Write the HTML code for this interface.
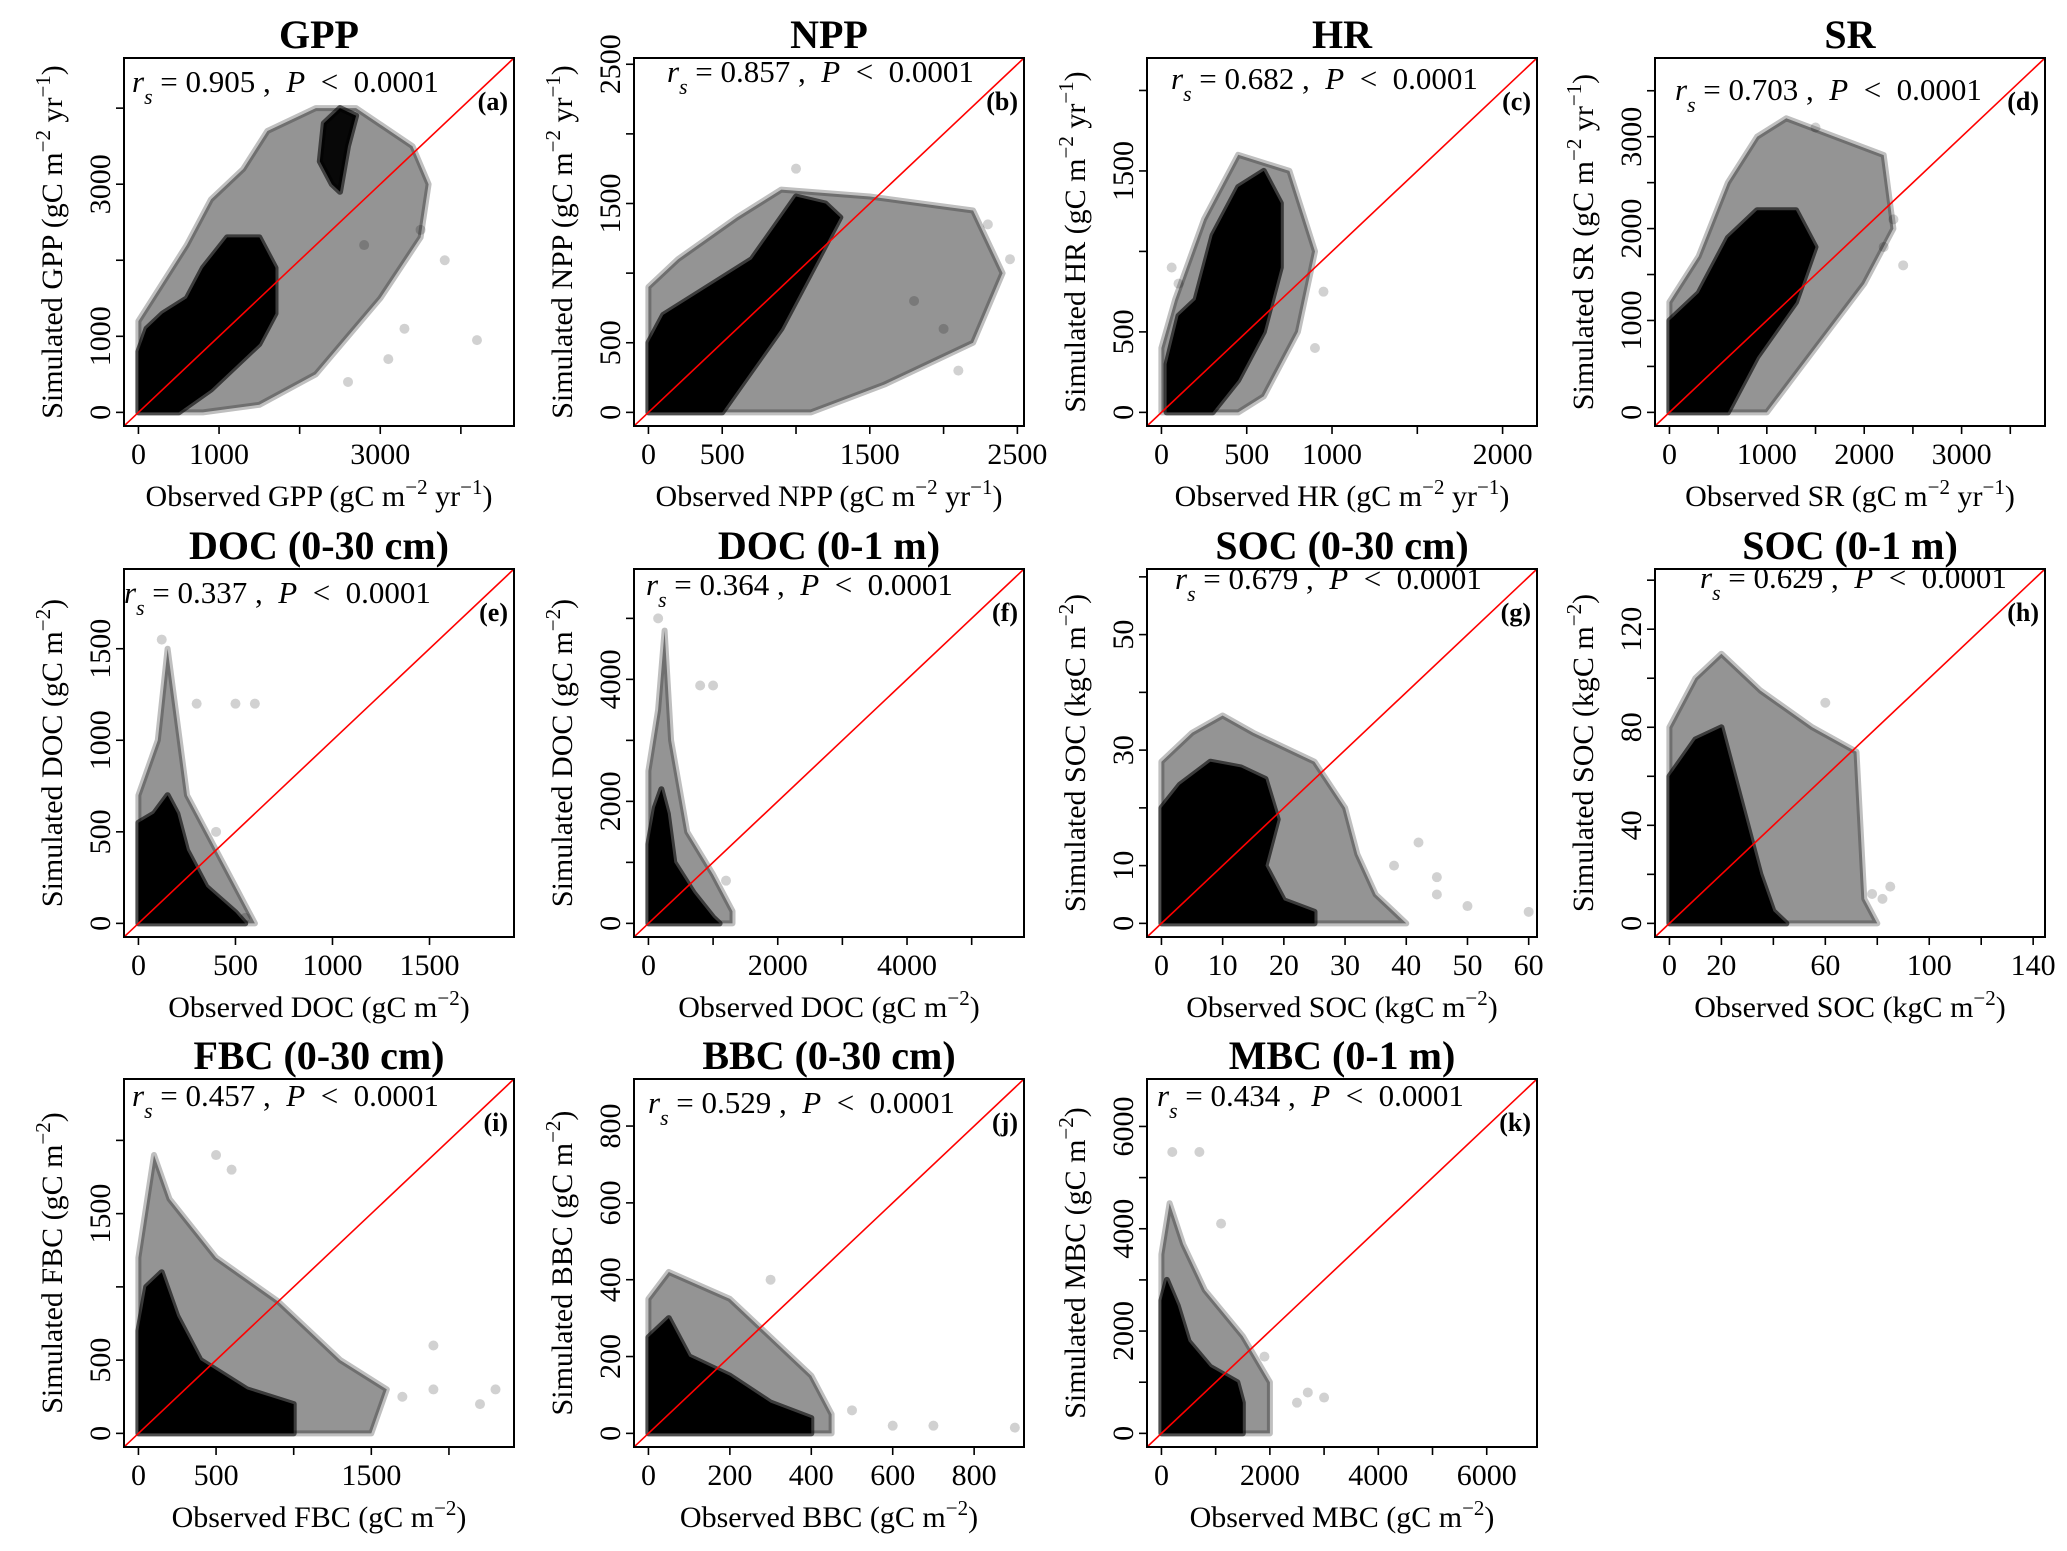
<!DOCTYPE html>
<html><head><meta charset="utf-8"><style>
html,body{margin:0;padding:0;background:#fff;}
svg{display:block;font-family:"Liberation Serif","DejaVu Serif",serif;}
.pre{white-space:pre;}
</style></head><body>
<svg id="fig" width="2067" height="1551" viewBox="0 0 2067 1551" xmlns="http://www.w3.org/2000/svg"></svg>
<script>
// ---- data (observed x, simulated y) ----
const panelIds = ["a","b","c","d","e","f","g","h","i","j","k"];
const titles = ["GPP","NPP","HR","SR","DOC (0-30 cm)","DOC (0-1 m)","SOC (0-30 cm)","SOC (0-1 m)","FBC (0-30 cm)","BBC (0-30 cm)","MBC (0-1 m)"];
const varNames = ["GPP","NPP","HR","SR","DOC","DOC","SOC","SOC","FBC","BBC","MBC"];
const units = ["gC m|−2| yr|−1|","gC m|−2| yr|−1|","gC m|−2| yr|−1|","gC m|−2| yr|−1|","gC m|−2|","gC m|−2|","kgC m|−2|","kgC m|−2|","gC m|−2|","gC m|−2|","gC m|−2|"];
const rsValues = ["0.905","0.857","0.682","0.703","0.337","0.364","0.679","0.629","0.457","0.529","0.434"];
const axisMax = [4480,2447,2117,3708,1861,5586,59,139,2326,887,6661];
const tickStep = [1000,500,500,500,500,1000,10,20,500,200,1000];
const xTickLabels = [[0,1000,3000],[0,500,1500,2500],[0,500,1000,2000],[0,1000,2000,3000],[0,500,1000,1500],[0,2000,4000],[0,10,20,30,40,50,60],[0,20,60,100,140],[0,500,1500],[0,200,400,600,800],[0,2000,4000,6000]];
const yTickLabels = [[0,1000,3000],[0,500,1500,2500],[0,500,1500],[0,1000,2000,3000],[0,500,1000,1500],[0,2000,4000],[0,10,30,50],[0,40,80,120],[0,500,1500],[0,200,400,600,800],[0,2000,4000,6000]];
// dense cores (obs,sim vertices)
const denseCores = [
 [[0,0],[0,800],[100,1100],[300,1300],[600,1500],[800,1900],[1100,2300],[1500,2300],[1700,1900],[1700,1300],[1500,900],[1200,600],[900,300],[500,0]],
 [[0,0],[0,500],[100,700],[400,900],[700,1100],[900,1400],[1000,1550],[1200,1500],[1300,1400],[1100,1000],[900,600],[700,300],[500,0]],
 [[30,0],[30,300],[100,600],[200,700],[300,1100],[450,1400],[600,1500],[700,1300],[700,900],[600,500],[450,200],[300,0]],
 [[0,0],[0,1000],[300,1300],[600,1900],[900,2200],[1300,2200],[1500,1800],[1300,1200],[900,600],[600,0]],
 [[0,0],[0,550],[80,600],[150,700],[200,600],[250,400],[350,200],[500,60],[550,0]],
 [[0,0],[0,1300],[100,1900],[200,2200],[300,1800],[400,1000],[700,500],[1000,100],[1100,0]],
 [[0,0],[0,20],[3,24],[8,28],[13,27],[17,25],[19,18],[17,10],[20,4],[25,2],[25,0]],
 [[0,0],[0,60],[10,75],[20,80],[25,60],[30,40],[35,20],[40,5],[45,0]],
 [[0,0],[0,700],[50,1000],[150,1100],[250,800],[400,500],[700,300],[1000,200],[1000,0]],
 [[0,0],[0,250],[50,300],[100,200],[200,150],[300,80],[400,40],[400,0]],
 [[0,0],[0,2600],[100,3000],[300,2500],[500,1800],[900,1300],[1400,1000],[1500,600],[1500,0]]
];
const extraCores = [
 [[2250,3300],[2300,3800],[2500,4000],[2700,3900],[2600,3500],[2500,2900],[2400,3000]],
 [],[],[],[],[],[],[],[],[],[]
];
// lower-density halos
const halos = [
 [[0,0],[0,1200],[300,1700],[600,2200],[900,2800],[1300,3200],[1600,3700],[2200,4000],[2700,4000],[3400,3500],[3600,3000],[3500,2300],[3000,1500],[2600,1000],[2200,500],[1500,100],[800,0]],
 [[0,0],[0,900],[200,1100],[600,1400],[900,1600],[1500,1550],[2200,1450],[2400,1000],[2200,500],[1600,200],[1100,0]],
 [[0,0],[0,400],[80,700],[250,1200],[450,1600],[750,1500],[900,1000],[800,500],[600,100],[450,0]],
 [[0,0],[0,1200],[300,1700],[600,2500],[900,3000],[1200,3200],[1700,3000],[2200,2800],[2300,2000],[2000,1400],[1500,700],[1000,0]],
 [[0,0],[0,700],[100,1000],[150,1500],[200,1100],[250,700],[400,400],[550,100],[600,0]],
 [[0,0],[0,2500],[150,3500],[250,4800],[350,3000],[600,1500],[1000,800],[1300,200],[1300,0]],
 [[0,0],[0,28],[5,33],[10,36],[15,33],[25,28],[30,20],[32,12],[35,5],[40,0]],
 [[0,0],[0,80],[10,100],[20,110],[35,95],[55,80],[72,70],[75,10],[80,0]],
 [[0,0],[0,1200],[100,1900],[200,1600],[500,1200],[900,900],[1300,500],[1600,300],[1500,0]],
 [[0,0],[0,350],[50,420],[200,350],[400,150],[450,50],[450,0]],
 [[0,0],[0,3500],[150,4500],[400,3700],[800,2800],[1500,1900],[2000,1000],[2000,0]]
];
// sparse outlier points
const outliers = [
 [[4200,950],[3800,2000],[3500,2400],[2800,2200],[2600,400],[3300,1100],[3100,700]],
 [[2300,1350],[2100,300],[1800,800],[1000,1750],[2450,1100],[2000,600]],
 [[100,800],[950,750],[900,400],[60,900]],
 [[2300,2100],[2200,1800],[1500,3100],[2400,1600]],
 [[600,1200],[500,1200],[300,1200],[120,1550],[400,500],[550,30]],
 [[1000,3900],[800,3900],[150,5000],[1200,700]],
 [[45,8],[50,3],[60,2],[38,10],[45,5],[42,14]],
 [[85,15],[82,10],[60,90],[78,12]],
 [[2300,300],[2200,200],[1900,300],[600,1800],[500,1900],[1900,600],[1700,250]],
 [[900,15],[700,20],[600,20],[300,400],[500,60]],
 [[3000,700],[2500,600],[200,5500],[700,5500],[1100,4100],[1900,1500],[2700,800]]
];

// ---- layout ----
const colLeft = [124,634,1147,1655];
const rowTop = [58,569,1079];
const W = 390, H = 368;
const rsOffX = [8,33,24,20,0,12,28,45,8,14,10];
const rsOffY = [34,24,31,42,34,26,20,19,27,34,27];
const NS = "http://www.w3.org/2000/svg";
const svg = document.getElementById('fig');
function mk(tag, attrs, parent){ const e=document.createElementNS(NS,tag); for(const k in attrs) e.setAttribute(k,attrs[k]); (parent||svg).appendChild(e); return e; }
function supText(parent, str, attrs){
  const t = mk('text', attrs, parent);
  str.split('|').forEach((s,i)=>{ const ts=mk('tspan',{},t); ts.textContent=s; if(i%2===1){ ts.setAttribute('baseline-shift','super'); ts.setAttribute('font-size','0.7em'); } });
  return t;
}

panelIds.forEach((id,p)=>{
  const L = colLeft[p%4], T = rowTop[Math.floor(p/4)];
  const m = axisMax[p], lo=-0.04*m, hi=1.04*m;
  const sx = v => L + (v-lo)/(hi-lo)*W;
  const sy = v => T + H - (v-lo)/(hi-lo)*H;
  const g = mk('g',{});
  
  
  const cp = mk('clipPath',{id:'clip'+id},g); mk('rect',{x:L,y:T,width:W,height:H},cp);
  const marks = mk('g',{'clip-path':'url(#clip'+id+')'},g);
  
  
  const poly = (arr, fill, op) => { if(!arr.length) return; const e=mk('polygon',{points:arr.map(q=>sx(q[0]).toFixed(1)+','+sy(q[1]).toFixed(1)).join(' '),fill:fill,'fill-opacity':op,stroke:fill,'stroke-opacity':op*0.6,'stroke-width':6,'stroke-linejoin':'round'},marks); return e; };
  const h = poly(halos[p],'#000',0.42);  
  const c = poly(denseCores[p],'#000',1);  
  const ec = poly(extraCores[p],'#000',0.95); if(ec){   }
  outliers[p].forEach(q=>{ const e=mk('circle',{cx:sx(q[0]),cy:sy(q[1]),r:5,fill:'#000','fill-opacity':0.18},marks);   });
  const line = mk('line',{x1:L,y1:T+H,x2:L+W,y2:T,stroke:'#ff0000','stroke-width':1.6},g);
   
  const box = mk('rect',{x:L,y:T,width:W,height:H,fill:'none',stroke:'#000','stroke-width':2},g);
   
  // ticks
  const xa = mk('g',{},g);  
  const ya = mk('g',{},g);  
  for(let v=0; v<=hi; v+=tickStep[p]){
    mk('line',{x1:sx(v),x2:sx(v),y1:T+H,y2:T+H+8,stroke:'#000','stroke-width':1.6},xa);
    mk('line',{x1:L,x2:L-8,y1:sy(v),y2:sy(v),stroke:'#000','stroke-width':1.6},ya);
  }
  xTickLabels[p].forEach(v=>{ const t=mk('text',{x:sx(v),y:T+H+38,'font-size':30,'text-anchor':'middle'},xa); t.textContent=v;   });
  yTickLabels[p].forEach(v=>{ const t=mk('text',{x:0,y:0,'font-size':30,'text-anchor':'middle',transform:`translate(${L-14},${sy(v)}) rotate(-90)`},ya); t.textContent=v;   });
  // titles
  const tt = mk('text',{x:L+W/2,y:T-10,'font-size':40,'font-weight':'bold','text-anchor':'middle'},g);
  tt.textContent = titles[p];  
  const xt = supText(g,'Observed '+varNames[p]+' ('+units[p]+')',{x:L+W/2,y:T+H+80,'font-size':30,'text-anchor':'middle'});
   
  const yt = supText(g,'Simulated '+varNames[p]+' ('+units[p]+')',{x:0,y:0,'font-size':30,'text-anchor':'middle',transform:`translate(${L-62},${T+H/2}) rotate(-90)`});
   
  // stats
  const st = mk('text',{x:L+rsOffX[p],y:T+rsOffY[p],'font-size':31,'class':'pre'},g);
   
  let s1=mk('tspan',{'font-style':'italic'},st); s1.textContent='r';
  let s2=mk('tspan',{'font-style':'italic','font-size':'0.7em','baseline-shift':'sub'},st); s2.textContent='s';
  let s3=mk('tspan',{},st); s3.textContent=' = '+rsValues[p]+' ,  ';
  let s4=mk('tspan',{'font-style':'italic'},st); s4.textContent='P';
  let s5=mk('tspan',{},st); s5.textContent='  <  0.0001';
  const pl = mk('text',{x:L+W-6,y:T+52,'font-size':26,'font-weight':'bold','text-anchor':'end'},g);
  pl.textContent='('+id+')';  
});
</script>
</body></html>
